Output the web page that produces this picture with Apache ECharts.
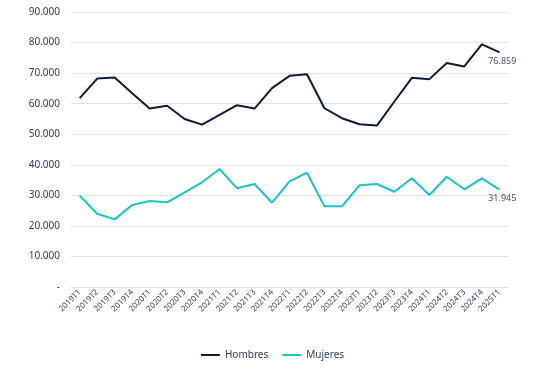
<!DOCTYPE html>
<html><head><meta charset="utf-8">
<script src="https://cdn.jsdelivr.net/npm/echarts@6/dist/echarts.min.js"></script>
<style>html,body{margin:0;padding:0;background:#fff}#c{width:545px;height:379px}</style>
</head><body><div id="c"></div>
<script>
const categories = ['2019T1','2019T2','2019T3','2019T4','2020T1','2020T2','2020T3','2020T4','2021T1','2021T2','2021T3','2021T4','2022T1','2022T2','2022T3','2022T4','2023T1','2023T2','2023T3','2023T4','2024T1','2024T2','2024T3','2024T4','2025T1'];
const hombres = [61800,68200,68550,63400,58400,59300,55000,53150,56300,59500,58400,65100,69100,69650,58500,55250,53280,52830,60700,68450,68030,73280,72170,79380,76859];
const mujeres = [29870,23970,22130,26820,28130,27700,31000,34260,38620,32300,33700,27580,34590,37410,26390,26390,33280,33700,31180,35570,30100,36100,31970,35570,31945];
const yTicks = [0,10000,20000,30000,40000,50000,60000,70000,80000,90000];

function fmt(v){ if(v===0) return '-'; return String(v).replace(/\B(?=(\d{3})+(?!\d))/g,'.'); }
function lastLabel(data){
  return data.map((v,i)=> i===data.length-1 ? {value:v,symbol:'circle',symbolSize:1,
    label:{show:true,position:'bottom',distance:4,offset:[3,0],formatter:p=>fmt(p.value),color:'#44546a',fontSize:9,fontFamily:'Noto Sans'}} : {value:v,symbol:'none'});
}
const chart = echarts.init(document.getElementById('c'));
chart.setOption({
  animation:false,
  grid:{left:71,right:37,top:12,bottom:92},
  legend:{bottom:14,left:'center',itemWidth:19,itemHeight:2,itemGap:14,icon:'rect',
    textStyle:{color:'#2f3b5c',fontSize:10,fontFamily:'Noto Sans'},data:['Hombres','Mujeres']},
  xAxis:{type:'category',data:categories,boundaryGap:true,
    axisLine:{show:false},axisTick:{show:false},
    axisLabel:{rotate:45,interval:0,fontSize:8,color:'#2f3b5c',fontFamily:'Noto Sans',margin:4}},
  yAxis:{type:'value',min:yTicks[0],max:yTicks[yTicks.length-1],interval:10000,
    axisLabel:{formatter:fmt,color:'#2f3b5c',fontSize:10,fontFamily:'Noto Sans',margin:11},
    splitLine:{lineStyle:{color:'#e4e4e4',width:1.2}}},
  series:[
    {name:'Hombres',type:'line',data:lastLabel(hombres),showSymbol:true,lineStyle:{color:'#0f1a3d',width:2},itemStyle:{color:'#0f1a3d'}},
    {name:'Mujeres',type:'line',data:lastLabel(mujeres),showSymbol:true,lineStyle:{color:'#1bc3cb',width:2},itemStyle:{color:'#1bc3cb'}}
  ]
});
</script></body></html>
